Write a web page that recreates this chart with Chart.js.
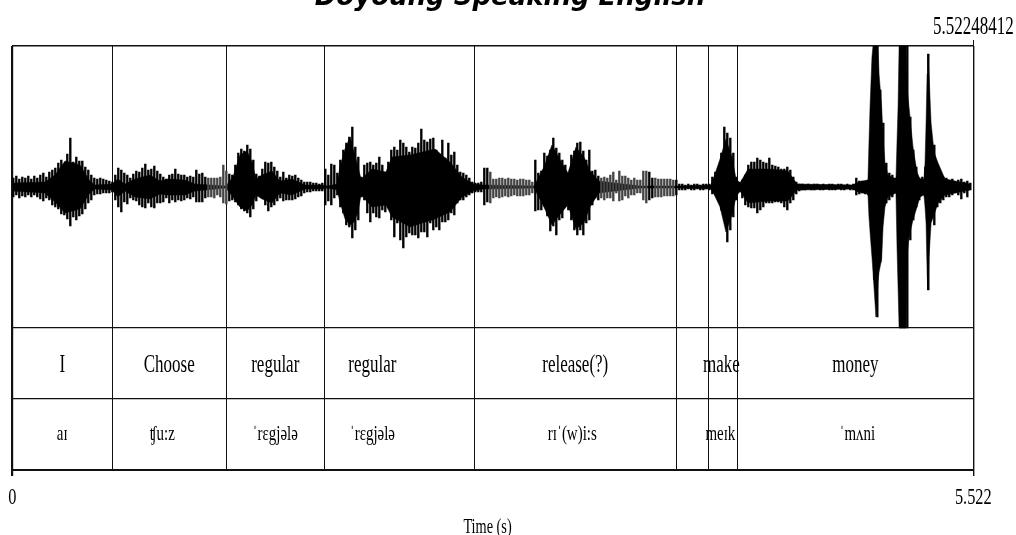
<!DOCTYPE html>
<html><head><meta charset="utf-8">
<style>html,body{margin:0;padding:0;background:#fff;overflow:hidden}#w{position:absolute;left:0;top:-30px;width:1020px;height:570px}</style>
<script src="https://cdn.jsdelivr.net/npm/chart.js@4"></script>
</head><body><div id="w"><canvas id="c" width="1020" height="570"></canvas></div>
<script>
const chartTitle = "Doyoung Speaking English";
const axisTitle = "Time (s)";
const axisTitleTime = 2.731;
const endTime = 5.52248412;
const endLabelTop = "5.52248412";
const endLabelBottom = "5.522";
const boundaries = [0.5764,1.2298,1.7913,2.6549,3.8141,3.9997,4.1663];
const wordTier = ["I","Choose","regular","regular","release(?)","make","money"];
const wordTimes = [0.287,0.902,1.511,2.069,3.235,4.075,4.845];
const phoneTier = ["aɪ","ʧu:z","ˈrɛgjələ","ˈrɛgjələ","rɪˈ(w)i:s","meɪk","ˈmʌni"];
const phoneTimes = [0.287,0.862,1.511,2.069,3.218,4.069,4.856];
const sampleStart = 0.00575, sampleStep = 0.01724;
const waveUp = [9,11,8,10,9,11,8,11,9,12,14,10,15,17,19,24,27,22,33,49,25,30,26,26,20,17,12,9,8,9,8,7,6,5,
12,19,17,14,12,9,13,16,15,19,23,17,18,21,16,13,10,8,12,13,18,13,12,12,10,11,10,17,13,14,10,9,9,9,9,10,22,16,
13,12,22,34,38,36,42,38,27,13,11,18,25,24,25,20,16,10,15,9,12,11,12,9,7,5,5,5,4,4,3,4,
18,12,23,22,14,27,37,44,50,60,40,30,10,22,24,25,22,24,30,22,14,25,37,40,37,47,44,40,35,40,39,44,58,47,45,48,49,37,30,47,29,44,32,35,22,15,14,12,9,5,4,4,5,19,19,15,
8,8,9,9,8,9,8,8,7,8,8,7,7,5,
27,14,16,34,31,37,49,39,34,27,22,14,32,36,44,45,36,27,37,16,17,11,9,10,9,12,15,7,16,11,11,9,7,9,7,7,16,16,15,
9,9,8,8,8,8,8,7,7,
3,3,2,3,2,3,3,2,3,3,3,
10,15,17,34,60,54,49,34,10,5,7,12,22,25,25,29,27,25,24,29,22,21,20,18,18,20,17,10,5,3,
3,2,3,2,3,3,2,3,2,3,3,2,3,3,2,3,2,3,
9,6,6,6,7,80,141,141,97,64,24,14,12,9,10,141,141,141,70,37,20,9,10,20,133,42,42,20,14,10,9,7,8,5,7,8,5,6,4];
const waveLo = [10,8,11,9,10,8,10,8,10,12,14,11,13,18,20,22,27,28,32,39,30,33,29,27,22,16,13,8,7,7,6,6,6,5,
13,20,25,15,17,11,13,14,18,20,21,16,20,21,16,16,15,11,16,13,15,13,14,13,11,12,10,15,15,15,11,10,10,11,8,10,16,17,
14,13,15,18,22,24,26,30,22,14,8,11,18,24,20,18,14,11,14,13,13,13,12,10,9,6,5,5,4,4,4,4,
18,14,18,11,8,20,26,38,40,51,43,33,10,13,26,35,26,30,31,23,25,21,33,50,36,53,61,50,46,48,48,51,45,45,50,36,43,40,43,35,35,33,26,28,16,13,13,10,8,6,5,5,5,18,15,16,
11,10,11,10,9,10,9,8,9,9,9,8,8,6,
24,23,23,19,29,44,39,48,33,31,19,23,33,43,48,43,48,36,33,18,11,13,11,13,11,11,14,6,14,13,9,11,8,8,6,6,13,16,13,
11,10,10,10,9,9,9,9,8,
3,3,3,2,3,3,2,3,3,2,3,
7,8,13,23,33,55,43,30,13,5,11,18,20,21,21,26,23,20,16,16,16,15,15,16,20,23,16,13,7,4,
3,3,2,3,3,2,3,3,2,3,3,3,2,3,3,2,3,3,
8,7,6,7,8,40,93,130,75,20,16,13,10,6,6,141,141,141,53,33,20,13,8,10,103,26,38,20,16,13,10,10,8,6,8,12,6,10,3];
const sparseRanges = [[1.11,1.23],[2.74,2.99],[3.37,3.66],[3.69,3.815]];
const coreTimes = [0,.188,.245,.303,.389,.446,.475,.573,.607,.647,.705,.791,.849,.895,.992,1.050,1.228,1.268,1.308,1.349,1.378,1.400,1.435,1.492,1.538,1.607,1.682,1.780,1.814,1.866,1.883,1.912,1.941,1.964,1.987,2.004,2.067,2.147,2.182,2.285,2.429,2.515,2.584,2.653,2.705,2.998,3.055,3.101,3.159,3.193,3.239,3.285,3.32,3.37,3.607,3.814,4.015,4.032,4.067,4.101,4.136,4.159,4.182,4.228,4.354,4.457,4.509,4.831,4.860,4.917,4.923,4.929,4.940,4.946,4.963,4.975,4.981,4.996,5.004,5.015,5.032,5.078,5.084,5.090,5.096,5.136,5.142,5.153,5.176,5.199,5.216,5.239,5.245,5.251,5.257,5.261,5.268,5.280,5.297,5.320,5.360,5.504];
const coreUp = [4,5,12,26,22,6,2,3,8,3,8,12,6,8,7,3,1,10,32,36,25,8,12,16,6,8,2,2,1,3,20,38,50,35,20,8,18,15,30,32,38,25,10,3,2,1,20,42,24,14,40,30,16,6,1,1,2,10,28,48,30,8,4,18,18,16,3,2,5,7,45,80,130,141,141,141,113,80,50,24,12,8,45,80,141,141,100,80,40,15,8,8,24,64,113,133,113,64,35,24,8,3];
const coreLo = [4,6,15,26,22,6,2,3,10,4,10,12,7,8,8,4,1,10,20,24,18,8,12,16,6,8,2,2,1,3,15,32,38,35,25,8,20,18,30,40,32,25,10,4,2,1,20,38,25,18,42,36,20,6,1,1,2,7,20,45,28,10,4,16,14,14,3,2,5,7,30,45,70,85,130,95,85,72,40,20,10,6,60,100,141,141,70,50,33,20,10,8,20,36,86,103,70,36,28,16,8,3];

const top_ = 141, tier1 = -141, tier2 = -212, tier3 = -283;
const wordRowValue = -178, phoneRowValue = -247.5;
const corePoints = (arr, sign) => arr.map((v,i)=>({x: coreTimes[i], y: sign*v}));
const spikeData = waveUp.map((v,i)=>({x: sampleStart + i*sampleStep, y:[-waveLo[i], v]}));
const spikeColor = c => {
  const t = sampleStart + c.dataIndex*sampleStep;
  return sparseRanges.some(r=>t>=r[0]&&t<=r[1]) ? '#444' : '#000';
};

const serif = '"Liberation Serif"';
const narrow = {
  id:'narrow',
  beforeDraw(chart){
    const ctx = chart.ctx;
    if (ctx._narrowed) return;
    ctx._narrowed = true;
    const orig = ctx.fillText;
    ctx.fillText = function(t,x,y,m){
      if (this.font.indexOf('Serif') < 0) return orig.call(this,t,x,y,m);
      this.save(); this.translate(x,y); this.scale(0.68,1); orig.call(this,t,0,0); this.restore();
    };
  }
};
const tierText = {
  id:'tierText',
  afterDatasetsDraw(chart){
    const {ctx, scales:{x,y}} = chart;
    ctx.save();
    ctx.fillStyle='#000'; ctx.textAlign='center'; ctx.textBaseline='middle';
    ctx.font = '25px '+serif;
    wordTier.forEach((w,i)=>ctx.fillText(w, x.getPixelForValue(wordTimes[i]), y.getPixelForValue(wordRowValue)));
    ctx.font = '22px '+serif;
    phoneTier.forEach((w,i)=>ctx.fillText(w, x.getPixelForValue(phoneTimes[i]), y.getPixelForValue(phoneRowValue)));
    ctx.font = '21px '+serif;
    ctx.fillText(axisTitle, x.getPixelForValue(axisTitleTime), chart.height-13);
    ctx.restore();
  }
};
new Chart(document.getElementById('c'),{
  type:'bar',
  data:{datasets:[
    {type:'line',label:'coreUp',data:corePoints(coreUp,1),borderColor:'#000',borderWidth:0.5,pointRadius:0,fill:'+1',backgroundColor:'#000',tension:0,order:2},
    {type:'line',label:'coreLo',data:corePoints(coreLo,-1),borderColor:'#000',borderWidth:0.5,pointRadius:0,fill:false,tension:0,order:2},
    {type:'bar',label:'waveform',data:spikeData,backgroundColor:spikeColor,barThickness:1.7,borderWidth:0,order:1}
  ]},
  options:{
    responsive:false,animation:false,parsing:{xAxisKey:'x',yAxisKey:'y'},
    layout:{padding:0},
    plugins:{legend:{display:false},tooltip:{enabled:false},
      title:{display:true,text:chartTitle,color:'#000',align:'center',
        font:{family:'"DejaVu Sans"',size:26,weight:'bold',style:'italic'},padding:{top:12.4,bottom:0}}},
    scales:{
      x:{type:'linear',position:'bottom',min:0,max:endTime,offset:false,
        afterBuildTicks(s){s.ticks=[0,...boundaries,endTime].map(v=>({value:v}));},
        afterFit(s){s.height=70;s.paddingLeft=0;s.paddingRight=0;},
        grid:{offset:false,color:'#111',lineWidth:c=>(c.index===0?2.2:(c.index===boundaries.length+1?1.4:1)),drawTicks:true,tickLength:6,
          tickColor:c=>(c.index===0||c.index===boundaries.length+1)?'#111':'rgba(0,0,0,0)'},
        border:{display:false},
        ticks:{autoSkip:false,maxRotation:0,minRotation:0,padding:7,color:'#000',font:{family:serif,size:24},
          callback(v){return v===0?'0':v===endTime?endLabelBottom:'';}}
      },
      x2:{type:'linear',position:'top',min:0,max:endTime,offset:false,
        afterBuildTicks(s){s.ticks=[{value:endTime}];},
        afterFit(s){s.height=32.4;s.paddingLeft=0;s.paddingRight=0;},
        grid:{offset:false,drawOnChartArea:false,color:'#111',tickLength:6},
        border:{display:false},
        ticks:{autoSkip:false,maxRotation:0,padding:-2,color:'#000',font:{family:serif,size:25},callback(){return endLabelTop;}}
      },
      y:{min:tier3,max:top_,
        afterBuildTicks(s){s.ticks=[top_,tier1,tier2,tier3].map(v=>({value:v}));},
        afterFit(s){s.width=12.3;},
        grid:{color:'#111',drawTicks:false,lineWidth:c=>(c.index===0?1.5:(c.index===3?2:1.2))},
        border:{display:false},
        ticks:{display:false}
      },
      yRight:{position:'right',min:tier3,max:top_,
        afterFit(s){s.width=46.7;},
        grid:{display:false},border:{display:false},ticks:{display:false}
      }
    }
  },
  plugins:[narrow,tierText]
});
</script></body></html>
